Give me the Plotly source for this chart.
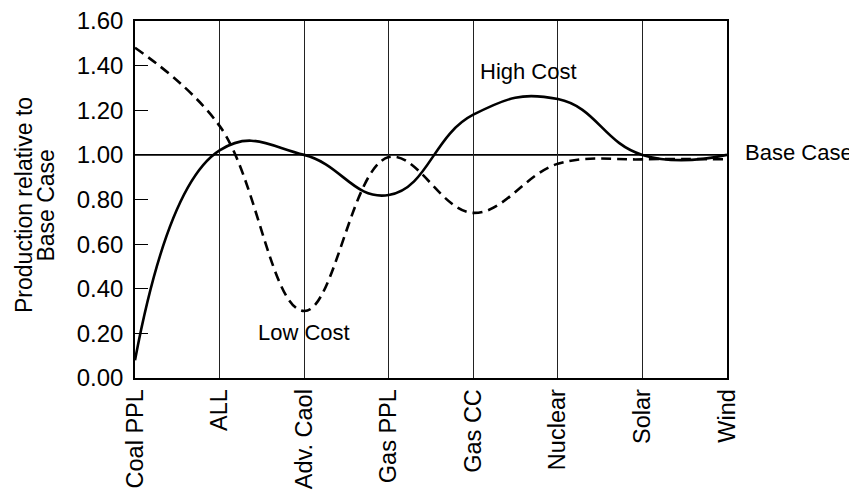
import plotly.graph_objects as go

categories = ["Coal PPL", "ALL", "Adv. Caol", "Gas PPL", "Gas CC", "Nuclear", "Solar", "Wind"]
high_cost = [0.08, 1.02, 1.00, 0.82, 1.18, 1.25, 1.00, 1.00]
low_cost = [1.48, 1.13, 0.30, 0.99, 0.74, 0.96, 0.98, 0.98]
y_ticks = [0.0, 0.2, 0.4, 0.6, 0.8, 1.0, 1.2, 1.4, 1.6]

FONT = "Liberation Sans, Arial, Helvetica, sans-serif"

fig = go.Figure()
fig.add_trace(go.Scatter(x=categories, y=high_cost, mode="lines", name="High Cost",
                         line=dict(color="black", width=2.6, shape="spline", smoothing=1.3)))
fig.add_trace(go.Scatter(x=categories, y=low_cost, mode="lines", name="Low Cost",
                         line=dict(color="black", width=2.6, shape="spline", smoothing=1.1,
                                   dash="10px,6px")))

fig.add_shape(type="line", xref="paper", yref="y", x0=0, x1=1, y0=1.0, y1=1.0,
              line=dict(color="black", width=1.6), layer="below")

fig.add_annotation(xref="paper", x=0.664, y=1.372, text="High Cost", showarrow=False,
                   xanchor="center", font=dict(family=FONT, size=22, color="black"))
fig.add_annotation(x="Adv. Caol", y=0.205, text="Low Cost", showarrow=False,
                   font=dict(family=FONT, size=22, color="black"))
fig.add_annotation(xref="paper", x=1.0, y=1.0, text="Base Case", showarrow=False,
                   xanchor="left", xshift=16, yshift=2,
                   font=dict(family=FONT, size=22, color="black"))
# y-axis title (two lines, set tight like the reference)
fig.add_annotation(xref="paper", yref="paper", x=-0.1875, y=0.4846, text="Production relative to",
                   textangle=-90, showarrow=False, xanchor="center", yanchor="middle",
                   font=dict(family=FONT, size=23, color="black"))
fig.add_annotation(xref="paper", yref="paper", x=-0.1510, y=0.4846, text="Base Case",
                   textangle=-90, showarrow=False, xanchor="center", yanchor="middle",
                   font=dict(family=FONT, size=23, color="black"))

fig.update_xaxes(type="category", range=[0, 7], showgrid=True, gridcolor="#222", gridwidth=1,
                 showline=True, linecolor="black", linewidth=1.5, mirror=True, automargin=False,
                 ticks="", tickangle=-90, tickfont=dict(family=FONT, size=23.5, color="black"),
                 ticklabelstandoff=0, ticklabeloverflow="allow")
fig.update_yaxes(range=[0, 1.6], tickvals=y_ticks, tickformat=".2f", showgrid=False,
                 zeroline=False, showline=True, linecolor="black", linewidth=1.5, mirror=True,
                 automargin=False, ticklabeloverflow="allow",
                 ticks="inside", ticklen=13, tickcolor="black", tickwidth=1.2,
                 tickfont=dict(family=FONT, size=24, color="black"), ticklabelstandoff=5)

# page body has an 8px margin: size the figure so the plot lands where the reference has it
fig.update_layout(width=849, height=486, margin=dict(l=127, r=130, t=13, b=116),
                  paper_bgcolor="white", plot_bgcolor="white", showlegend=False)

fig.write_html("out.html")
